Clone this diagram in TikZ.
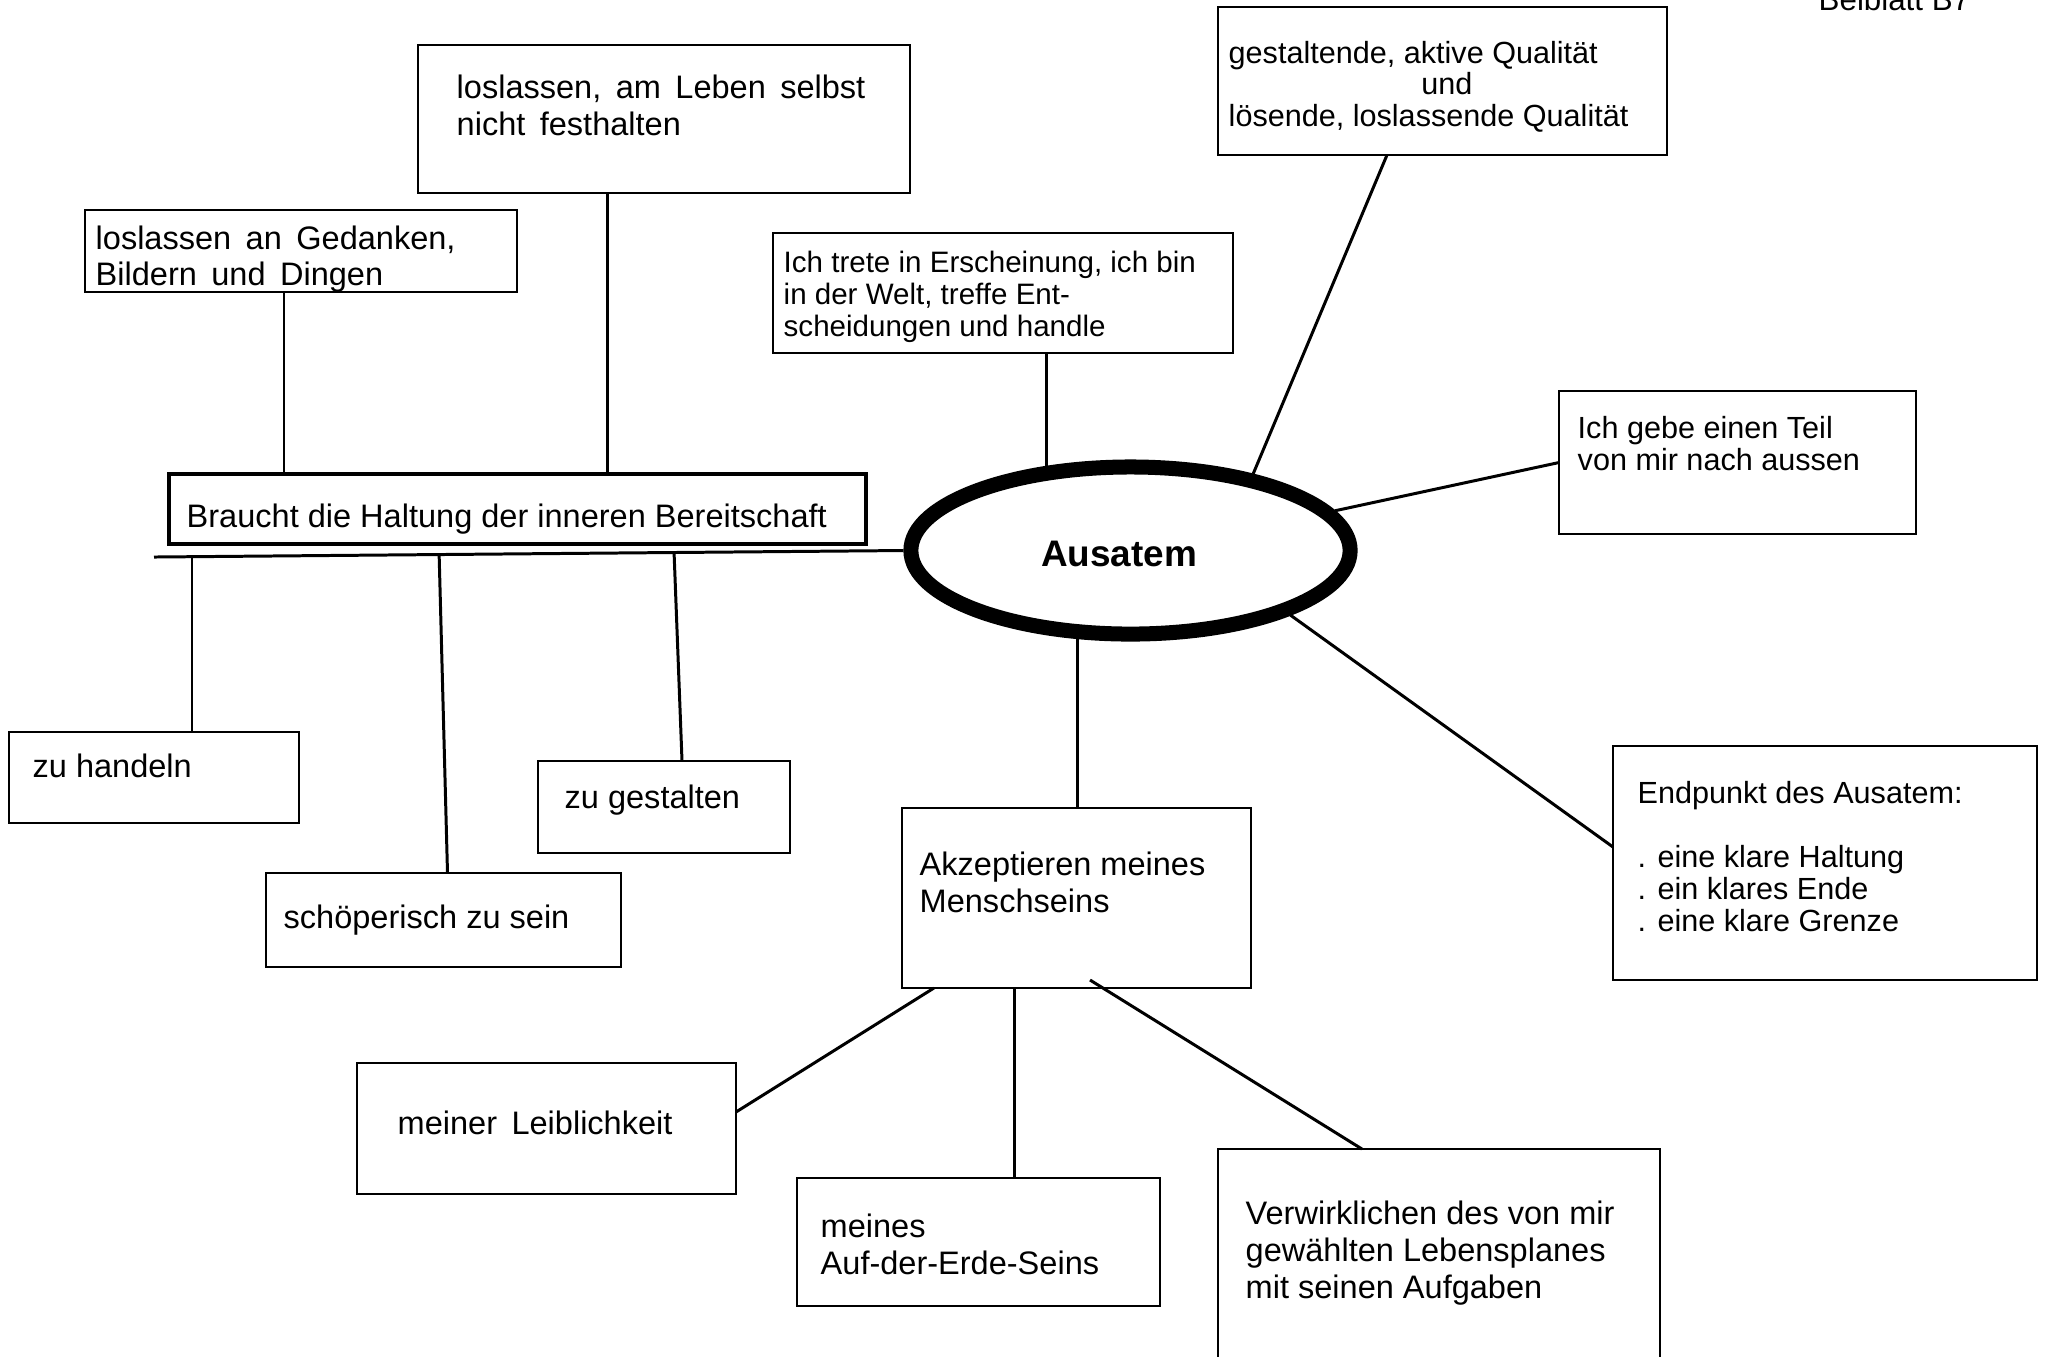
\documentclass[tikz,border=0pt]{standalone}
\usepackage{fontspec}
\setmainfont{Liberation Sans}
\newfontfamily\widesans[WordSpace=1.6]{Liberation Sans}
\usetikzlibrary{shapes.geometric,fit,calc}

% multi-line texts are anchored at the baseline of their last line
\tikzset{
  box/.style={draw, line width=0.7pt, inner sep=0pt, outer sep=0pt},
  thickbox/.style={draw, line width=1.3pt, inner sep=0pt, outer sep=0pt},
  txt/.style={anchor=base west, align=left, inner sep=0pt,
    font=\fontsize{9.25}{10.4}\selectfont},
  wtxt/.style={txt, font=\widesans\fontsize{9.25}{10.4}\selectfont},
  htxt/.style={anchor=base west, align=left, inner sep=0pt,
    font=\fontsize{8.7}{9.1}\selectfont},
  link/.style={line width=0.85pt},
}

\begin{document}
\begin{tikzpicture}[x=0.01cm, y=-0.01cm]
\useasboundingbox (0,0) rectangle (2049,1356);

% page mark
\node[anchor=base west, inner sep=0pt, font=\fontsize{8.9}{10}\selectfont] (hdr) at (1818,10) {Beiblatt B7};

% central ellipse
\node[ellipse, draw, line width=0.15cm, minimum width=4.39cm, minimum height=1.67cm,
      inner sep=0pt, outer sep=0.075cm] (aus) at (1130.5,550.5) {};
\node[anchor=base, inner sep=0pt, font=\bfseries\fontsize{10.5}{12}\selectfont] (ausT) at (1119,566) {Ausatem};

% boxes
\node[box, fit={(418,45) (910,193)}] (b1) {};
\node[box, fit={(85,210) (517,292)}] (b2) {};
\node[box, fit={(773,233) (1233,353)}] (b3) {};
\node[box, fit={(1218,7) (1667,155)}] (b4) {};
\node[box, fit={(1559,391) (1916,534)}] (b5) {};
\node[box, fit={(1613,746) (2037,980)}] (b6) {};
\node[thickbox, fit={(169,474) (866,544)}] (b7) {};
\node[box, fit={(9,732) (299,823)}] (b8) {};
\node[box, fit={(538,761) (790,853)}] (b9) {};
\node[box, fit={(266,873) (621,967)}] (b10) {};
\node[box, fit={(902,808) (1251,988)}] (b11) {};
\node[box, fit={(357,1063) (736,1194)}] (b12) {};
\node[box, fit={(797,1178) (1160,1306)}] (b13) {};
\node[box, fit={(1218,1149) (1660,1420)}] (b14) {};

% texts
\node[wtxt] (t1) at (456,135) {loslassen, am Leben selbst\\nicht festhalten};
\node[wtxt, font=\widesans\fontsize{9.25}{10}\selectfont] (t2) at (95,285) {loslassen an Gedanken,\\Bildern und Dingen};
\node[htxt, font=\fontsize{8.4}{9.1}\selectfont] (t3) at (783,336)
  {Ich trete in Erscheinung, ich bin\\in der Welt, treffe Ent-\\scheidungen und handle};
\node[htxt, font=\fontsize{8.7}{8.9}\selectfont] (t4) at (1228,126)
  {gestaltende, aktive Qualität\\\hspace*{6.3em}und\\lösende, loslassende Qualität};
\node[htxt] (t5) at (1577,470) {Ich gebe einen Teil\\von mir nach aussen};
\node[htxt] (t6) at (1637,931)
  {Endpunkt des Ausatem:\\[9.1pt]. eine klare Haltung\\. ein klares Ende\\. eine klare Grenze};
\node[txt] (t7) at (186,527) {Braucht die Haltung der inneren Bereitschaft};
\node[txt] (t8) at (32,777) {zu handeln};
\node[txt] (t9) at (564,808) {zu gestalten};
\node[txt] (t10) at (283,928) {schöperisch zu sein};
\node[txt] (t11) at (919,912) {Akzeptieren meines\\Menschseins};
\node[wtxt] (t12) at (397,1134) {meiner Leiblichkeit};
\node[txt] (t13) at (820,1274) {meines\\Auf-der-Erde-Seins};
\node[txt] (t14) at (1245,1298) {Verwirklichen des von mir\\gewählten Lebensplanes\\mit seinen Aufgaben};

% horizontal bar under the attitude box, with its three drops
\coordinate (lineL) at (154,557);
\draw[link] (lineL) -- (aus.west);
\coordinate (d8) at ($(lineL)!0.0507!(aus.west)$);
\coordinate (d10) at ($(lineL)!0.3805!(aus.west)$);
\coordinate (d9) at ($(lineL)!0.694!(aus.west)$);
\draw[link] (d8) -- (d8 |- b8.north);
\draw[link] (d10) -- ([xshift=0.04cm]b10.north);
\draw[link] (d9) -- ([xshift=0.18cm]b9.north);

% upper boxes onto the attitude box
\coordinate (c2) at ([xshift=-0.17cm]b2.south);
\draw[link] (c2) -- (c2 |- b7.north);
\coordinate (c1) at ([xshift=-0.56cm]b1.south);
\draw[link] (c1) -- (c1 |- b7.north);

% spokes of the ellipse
\draw[link] (aus.135) -- (aus.135 |- b3.south);
\draw[link] (aus.32) -- ([xshift=-0.555cm]b4.south);
\draw[link] (aus.11) -- (b5.west);
\draw[link] (aus.338) -- ([yshift=0.16cm]b6.west);
\draw[link] (aus.239) -- (aus.239 |- b11.north);

% branches below
\draw[link] ([xshift=-1.425cm]b11.south) -- ([yshift=0.165cm]b12.east);
\coordinate (c13) at ([xshift=-0.615cm]b11.south);
\draw[link] (c13) -- (c13 |- b13.north);
\draw[link] ([shift={(0.135cm,0.08cm)}]b11.south) -- ([xshift=-0.77cm]b14.north);
\end{tikzpicture}
\end{document}
